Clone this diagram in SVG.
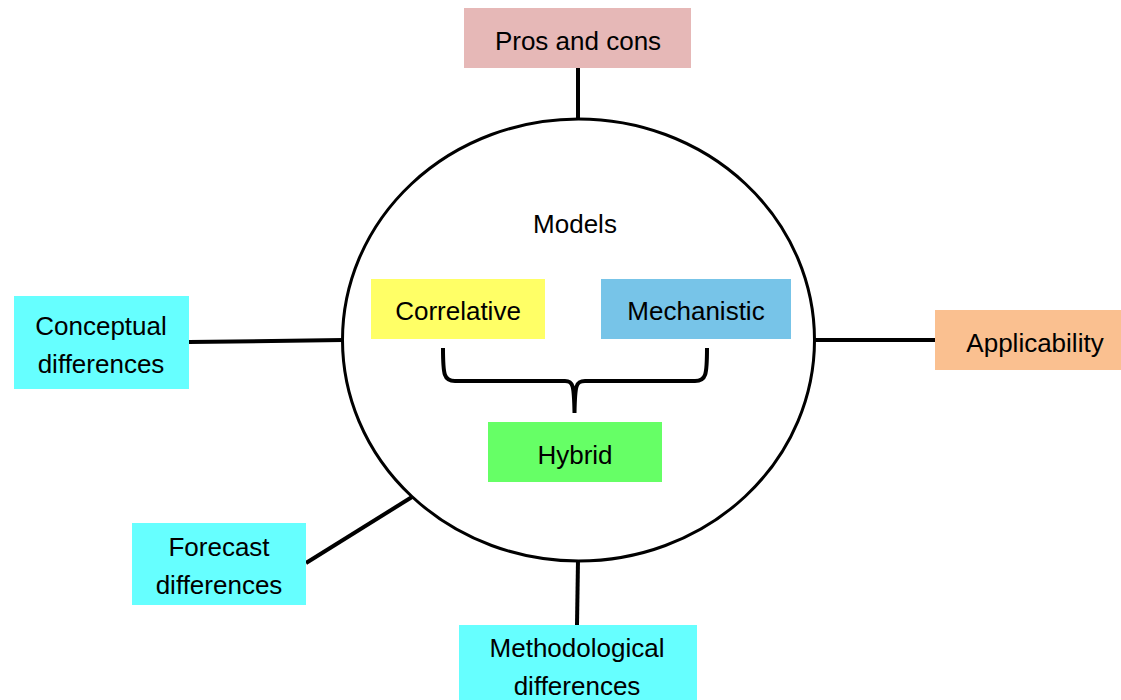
<svg xmlns="http://www.w3.org/2000/svg" width="1121" height="700" viewBox="0 0 1121 700">
<style>
text{font-family:"Liberation Sans",Arial,sans-serif;font-size:26px;fill:#000;text-anchor:middle}
.ln{stroke:#000;stroke-width:4;fill:none}
.cyan{fill:#66FFFF}
</style>
<rect width="1121" height="700" fill="#fff"/>
<g id="models">
<ellipse cx="578.5" cy="340" rx="236" ry="221" fill="#fff" stroke="#000" stroke-width="3"/>
<text x="575" y="233">Models</text>
</g>
<g id="connectors">
<line class="ln" x1="578" y1="68" x2="578" y2="120"/>
<line class="ln" x1="189" y1="342" x2="343" y2="340"/>
<line class="ln" x1="306" y1="563" x2="412" y2="497"/>
<line class="ln" x1="578" y1="560" x2="577" y2="625"/>
<line class="ln" x1="813" y1="340" x2="935" y2="340"/>
<path class="ln" d="M443,348 C443,375 444,381 455,381 L565,381 C573,381 574,385 574.5,413 C575,385 576,381 585,381 L695,381 C706,381 707,375 707,348"/>
</g>
<g id="pros"><rect x="464" y="8" width="227" height="60" fill="#E6B8B7"/><text x="578" y="50">Pros and cons</text></g>
<g id="conceptual"><rect class="cyan" x="14" y="296" width="175" height="93"/><text x="101" y="335">Conceptual</text><text x="101" y="373">differences</text></g>
<g id="forecast"><rect class="cyan" x="132" y="523" width="174" height="82"/><text x="219" y="556">Forecast</text><text x="219" y="594">differences</text></g>
<g id="methodological"><rect class="cyan" x="459" y="625" width="238" height="75"/><text x="577" y="657">Methodological</text><text x="577" y="695">differences</text></g>
<g id="applicability"><rect x="935" y="310" width="186" height="60" fill="#FAC090"/><text x="1035" y="352">Applicability</text></g>
<g id="correlative"><rect x="371" y="279" width="174" height="60" fill="#FFFF66"/><text x="458" y="320">Correlative</text></g>
<g id="mechanistic"><rect x="601" y="279" width="190" height="60" fill="#77C4E8"/><text x="696" y="320">Mechanistic</text></g>
<g id="hybrid"><rect x="488" y="422" width="174" height="60" fill="#66FF66"/><text x="575" y="464">Hybrid</text></g>
</svg>
